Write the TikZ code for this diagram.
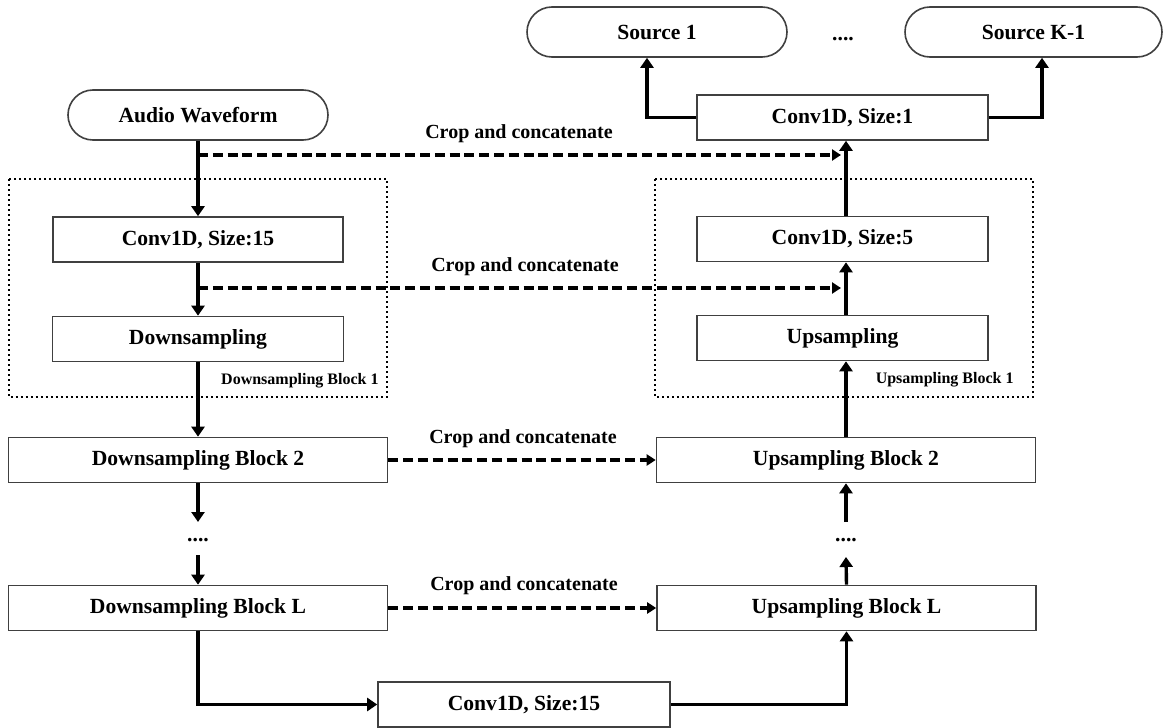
\documentclass[tikz,border=0pt]{standalone}
\usepackage{fontspec}
\setmainfont{Liberation Serif}
\usetikzlibrary{arrows.meta,calc}

\begin{document}
\begin{tikzpicture}[x=0.5pt,y=-0.5pt,
  box/.style={draw=black!75, line width=0.8pt, fill=white, inner sep=0pt,
    minimum height=22.5pt, font=\fontsize{10.8}{12}\selectfont\bfseries},
  term/.style={box, rounded corners=12.5pt, minimum height=25pt},
  flow/.style={line width=1.7pt, -{Triangle[length=5pt,width=6.5pt]}},
  skip/.style={line width=1.6pt, dash pattern=on 5pt off 2.4pt,
    -{Triangle[length=4.5pt,width=5.5pt]}},
  grp/.style={line width=1.2pt, dash pattern=on 1.2pt off 1.3pt},
  lbl/.style={font=\fontsize{10}{12}\selectfont\bfseries, inner sep=0pt},
  grplbl/.style={font=\fontsize{8}{10}\selectfont\bfseries, inner sep=0pt, anchor=east},
  ell/.style={font=\fontsize{10.8}{12}\selectfont\bfseries, inner sep=0pt}]

\useasboundingbox (0,0) rectangle (1168,728);

% group frames
\draw[grp] (9,179) rectangle (387,397);
\draw[grp] (655,179) rectangle (1033,397);
\node[grplbl] (dbl1) at (379,381) {Downsampling Block 1};
\node[grplbl] (ubl1) at (1014,380) {Upsampling Block 1};

% encoder column
\node[term, minimum width=130pt] (aw) at (198,115) {Audio Waveform};
\node[box, minimum width=145pt] (c15) at (198,239.5) {Conv1D, Size:15};
\node[box, minimum width=145.5pt] (ds) at (198,339) {Downsampling};
\node[box, minimum width=189.5pt] (db2) at (198,460) {Downsampling Block 2};
\node[ell] (dl) at (198,540) {....};
\node[box, minimum width=189.5pt] (dbL) at (198,608) {Downsampling Block L};

% bottleneck
\node[box, minimum width=146pt] (cb) at (524,704.5) {Conv1D, Size:15};

% decoder column
\node[box, minimum width=189.5pt] (ubL) at (846.5,608) {Upsampling Block L};
\node[ell] (dr) at (846,540) {....};
\node[box, minimum width=189.5pt] (ub2) at (846,460) {Upsampling Block 2};
\node[box, minimum width=145.5pt] (up) at (842.5,338) {Upsampling};
\node[box, minimum width=145.5pt] (c5) at (842.5,239) {Conv1D, Size:5};
\node[box, minimum width=145.5pt] (c1) at (842.5,117.5) {Conv1D, Size:1};

% outputs
\node[term, minimum width=130pt] (s1) at (657,32) {Source 1};
\node[ell] (so) at (843,39) {....};
\node[term, minimum width=128.5pt] (sk) at (1033.5,32) {Source K-1};

% helper coordinates
\coordinate (rx) at (846,0);
\coordinate (rin) at (841,0);
\coordinate (t1) at (198,155);
\coordinate (t2) at (198,288);
\coordinate (dla) at (198,522);
\coordinate (dlb) at (198,555);
\coordinate (dra) at (846,557);
\coordinate (drb) at (846,522);

% encoder flow
\draw[flow] (aw.south) -- (c15.north);
\draw[flow] (c15.south) -- (ds.north);
\draw[flow] (ds.south) -- (db2.north);
\draw[flow] (db2.south) -- (dla);
\draw[flow] (dlb) -- (dbL.north);
\draw[flow] (dbL.south) |- (cb.west);

% decoder flow
\draw[flow] (cb.east) -| (ubL.south);
\draw[flow] (ubL.north) -- (dra);
\draw[flow] (drb) -- (ub2.south);
\draw[flow] (ub2.north) -- (up.south -| rx);
\draw[flow] (up.north -| rx) -- (c5.south -| rx);
\draw[flow] (c5.north -| rx) -- (c1.south -| rx);
\draw[flow] (c1.west) -| ([xshift=-5pt]s1.south);
\draw[flow] (c1.east) -| ([xshift=4.25pt]sk.south);

% skip connections
\draw[skip] (t1) -- (t1 -| rin);
\draw[skip] (t2) -- (t2 -| rin);
\draw[skip] (db2.east) -- (ub2.west);
\draw[skip] (dbL.east) -- (ubL.west);
\node[lbl] (k1) at (519,134) {Crop and concatenate};
\node[lbl] (k2) at (525,267) {Crop and concatenate};
\node[lbl] (k3) at (523,439) {Crop and concatenate};
\node[lbl] (k4) at (524,586) {Crop and concatenate};
\end{tikzpicture}
\end{document}
